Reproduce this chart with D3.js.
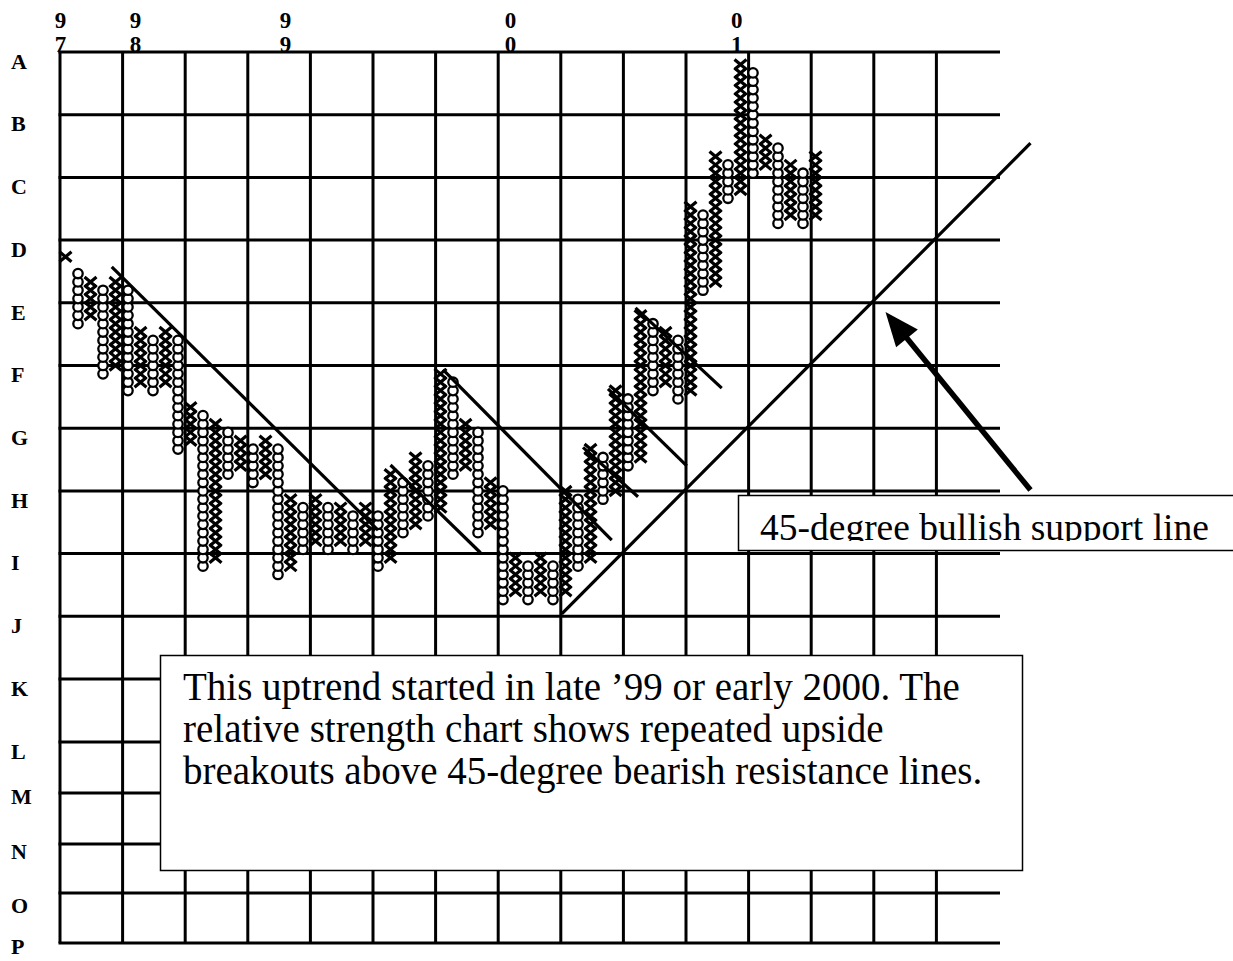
<!DOCTYPE html>
<html>
<head>
<meta charset="utf-8">
<script src="https://d3js.org/d3.v7.min.js"></script>
<style>
  body { margin: 0; background: #fff; }
  svg { display: block; }
  text { font-family: "Liberation Serif", "Times New Roman", serif; fill: #000; }
</style>
</head>
<body>
<svg width="1233" height="961"></svg>
<script>
// point & figure columns, box levels counted up from the J line
var colKind = ["X","O","X","O","X","O","X","O","X","O",
               "X","O","X","O","X","O","X","O","X","O",
               "X","O","X","O","X","O","X","O","X","O",
               "X","O","X","O","X","O","X","O","X","O",
               "X","O","X","O","X","O","X","O","X","O",
               "X","O","X","O","X","O","X","O","X","O","X"];
var colHigh = [43,41,40,39,40,39,34,33,34,33,
               25,24,23,22,21,20,21,20,14,13,
               14,13,13,12,13,12,17,16,19,18,
               29,28,23,22,16,15, 7, 6, 7, 6,
               15,14,20,19,27,26,36,35,34,33,
               49,48,55,54,66,65,57,56,54,53,55];
var colLow  = [43,35,36,29,30,27,28,27,28,20,
               21, 6, 7,17,18,16,17, 5, 6, 8,
                9, 8, 9, 8, 9, 6, 7,10,11,12,
               13,17,18,10,11, 2, 3, 2, 3, 2,
                3, 6, 7,14,15,18,19,27,28,26,
               27,39,40,50,51,53,54,47,48,47,48];

var rowLabels = ["A","B","C","D","E","F","G","H","I","J","K","L","M","N","O","P"];
var yearLabels = [["9","7"],["9","8"],["9","9"],["0","0"],["0","1"]];
var yearCols = [-0.4, 5.6, 17.6, 35.6, 53.7];

// 45-degree lines as [col, level, col, level]
var bearLines = [
  [3.7, 41.8, 25.0, 10.3],
  [26.0, 18.1, 33.2, 7.6],
  [30.2, 29.5, 43.7, 9.1],
  [41.4, 20.2, 45.8, 14.3],
  [43.4, 27.2, 49.7, 18.0],
  [45.6, 36.9, 52.5, 27.3]
];
var supportLine = [39.7, 0.3, 77.2, 56.6];
var arrowLine = [77.2, 15.1, 65.6, 36.4];

var noteLines = [
  "This uptrend started in late \u201999 or early 2000. The",
  "relative strength chart shows repeated upside",
  "breakouts above 45-degree bearish resistance lines."
];
var calloutText = "45-degree bullish support line";

var svg = d3.select("svg");

var x = d3.scaleLinear().domain([0, 60]).range([65.5, 815.5]);
var y = d3.scaleLinear().domain([0, 67.5]).range([616.3, 52]);
var gridX = d3.scaleLinear().domain([0, 14]).range([60, 936.4]);

// horizontal grid rows: A..J follow the box scale, the lower rows are squeezed
var rowY = d3.range(10).map(function(i) { return y(67.5 - 7.5 * i); })
  .concat([679, 742, 793, 844, 893, 943]);
var labelY = rowY.map(function(v, i) {
  return i < 12 ? v + 9 : [796, 851, 905, 946][i - 12];
});

var grid = svg.append("g").attr("stroke", "#000").attr("stroke-width", 3);
grid.selectAll(".h").data(rowY).enter().append("line")
  .attr("x1", 58.5).attr("x2", 1000)
  .attr("y1", function(d) { return d; }).attr("y2", function(d) { return d; });
grid.selectAll(".v").data(d3.range(15)).enter().append("line")
  .attr("x1", function(d) { return gridX(d); }).attr("x2", function(d) { return gridX(d); })
  .attr("y1", rowY[0]).attr("y2", rowY[rowY.length - 1]);

svg.selectAll(".rowlab").data(rowLabels).enter().append("text")
  .attr("x", 11).attr("y", function(d, i) { return labelY[i]; })
  .attr("dy", "0.35em")
  .attr("font-size", 22).attr("font-weight", "bold")
  .text(function(d) { return d; });

// stacked year digits on top
var yl = svg.selectAll(".year").data(yearLabels).enter().append("g")
  .attr("transform", function(d, i) { return "translate(" + x(yearCols[i]) + ",0)"; });
yl.append("text").attr("y", 28).attr("text-anchor", "middle").attr("font-size", 23)
  .attr("font-weight", "bold")
  .text(function(d) { return d[0]; });
yl.append("text").attr("y", 52).attr("text-anchor", "middle").attr("font-size", 23)
  .attr("font-weight", "bold")
  .text(function(d) { return d[1]; });

// build box list
var boxes = [];
colKind.forEach(function(k, i) {
  for (var b = colLow[i]; b <= colHigh[i]; b++) boxes.push({ kind: k, col: i, lev: b });
});

svg.append("g").selectAll("path").data(boxes.filter(function(d) { return d.kind == "X"; }))
  .enter().append("path")
  .attr("transform", function(d) { return "translate(" + x(d.col) + "," + y(d.lev) + ")"; })
  .attr("d", "M-6,-5L6,5M-6,5L6,-5")
  .attr("stroke", "#000").attr("stroke-width", 3.2).attr("fill", "none");

svg.append("g").selectAll("circle").data(boxes.filter(function(d) { return d.kind == "O"; }))
  .enter().append("circle")
  .attr("cx", function(d) { return x(d.col); })
  .attr("cy", function(d) { return y(d.lev); })
  .attr("r", 4.7)
  .attr("fill", "#fff").attr("stroke", "#000").attr("stroke-width", 2.3);

// trend lines
svg.append("g").selectAll("line").data(bearLines.concat([supportLine])).enter().append("line")
  .attr("x1", function(d) { return x(d[0]); }).attr("y1", function(d) { return y(d[1]); })
  .attr("x2", function(d) { return x(d[2]); }).attr("y2", function(d) { return y(d[3]); })
  .attr("stroke", "#000").attr("stroke-width", 3.2);

// note box
svg.append("rect").attr("x", 160.5).attr("y", 655.5).attr("width", 862).attr("height", 215)
  .attr("fill", "#fff").attr("stroke", "#000").attr("stroke-width", 1.5);
svg.selectAll(".note").data(noteLines).enter().append("text")
  .attr("x", 183).attr("y", function(d, i) { return 700 + i * 42; })
  .attr("font-size", 39)
  .text(function(d) { return d; });

// callout box, text clipped at the baseline
svg.append("clipPath").attr("id", "cclip").append("rect")
  .attr("x", 738).attr("y", 495).attr("width", 500).attr("height", 46);
svg.append("rect").attr("x", 738.5).attr("y", 495.5).attr("width", 520).attr("height", 55)
  .attr("fill", "#fff").attr("stroke", "#000").attr("stroke-width", 1.5);
svg.append("text").attr("clip-path", "url(#cclip)")
  .attr("x", 760).attr("y", 540).attr("font-size", 37.5)
  .text(calloutText);

// arrow
var ax1 = x(arrowLine[0]), ay1 = y(arrowLine[1]), ax2 = x(arrowLine[2]), ay2 = y(arrowLine[3]);
var ang = Math.atan2(ay2 - ay1, ax2 - ax1);
var hl = 34, hw = 14;
svg.append("line")
  .attr("x1", ax1).attr("y1", ay1)
  .attr("x2", ax2 - Math.cos(ang) * hl * 0.8).attr("y2", ay2 - Math.sin(ang) * hl * 0.8)
  .attr("stroke", "#000").attr("stroke-width", 5.5);
var bx = ax2 - Math.cos(ang) * hl, by = ay2 - Math.sin(ang) * hl;
svg.append("polygon")
  .attr("points", [
    [ax2, ay2],
    [bx + Math.sin(ang) * hw, by - Math.cos(ang) * hw],
    [bx - Math.sin(ang) * hw, by + Math.cos(ang) * hw]
  ].map(function(p) { return p.join(","); }).join(" "))
  .attr("fill", "#000");
</script>
</body>
</html>
